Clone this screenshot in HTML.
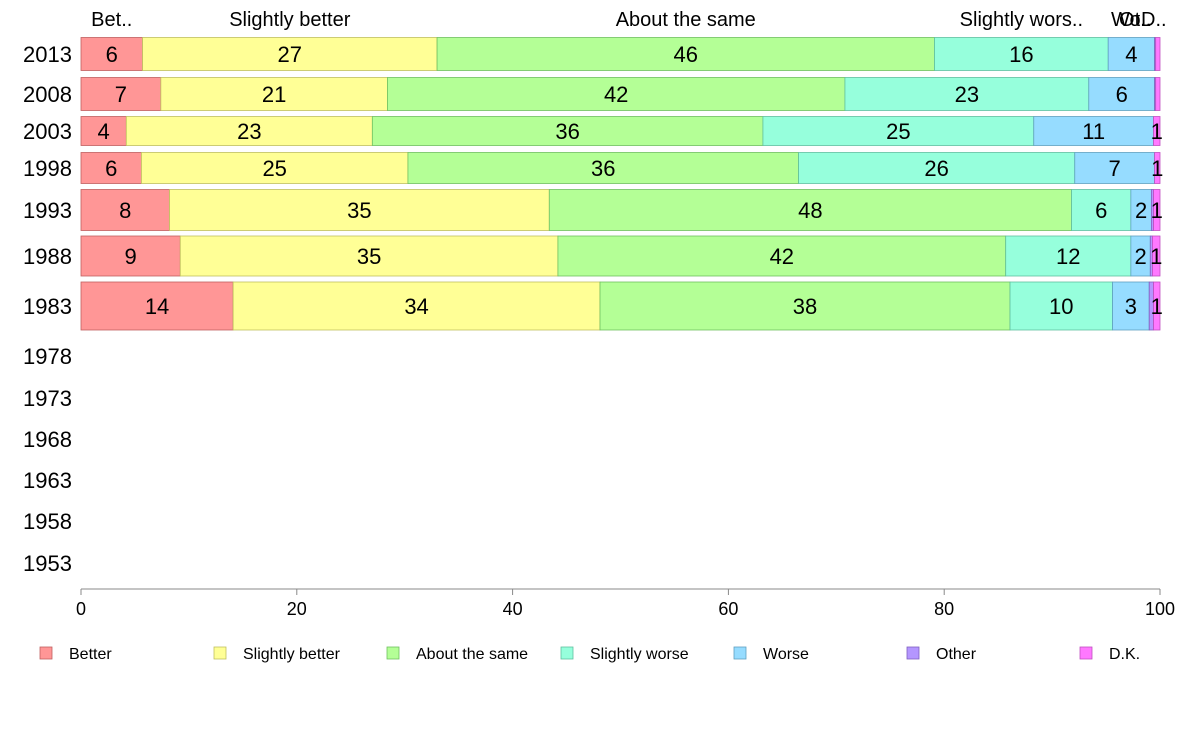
<!DOCTYPE html>
<html><head><meta charset="utf-8"><style>
body{margin:0;background:#fff;font-family:"Liberation Sans",sans-serif;}
svg text{font-family:"Liberation Sans",sans-serif;}
</style></head><body>
<svg id="chart" width="1188" height="736" xmlns="http://www.w3.org/2000/svg"></svg>
<script>
const years=["2013","2008","2003","1998","1993","1988","1983","1978","1973","1968","1963","1958","1953"];
const categories=["Better","Slightly better","About the same","Slightly worse","Worse","Other","D.K."];
const better=[5.7,7.4,4.2,5.6,8.2,9.2,14.1];
const slightlyBetter=[27.3,21.0,22.8,24.7,35.2,35.0,34.0];
const aboutSame=[46.1,42.4,36.2,36.2,48.4,41.5,38.0];
const slightlyWorse=[16.1,22.6,25.1,25.6,5.5,11.6,9.5];
const worse=[4.3,6.1,11.1,7.4,1.9,1.8,3.4];
const other=[0.1,0.1,0.0,0.0,0.2,0.2,0.4];
const dk=[0.4,0.4,0.6,0.5,0.6,0.7,0.6];
const xTicks=[0,20,40,60,80,100];
const series=[better,slightlyBetter,aboutSame,slightlyWorse,worse,other,dk];
const colors=["#ff9696","#ffff96","#b4ff96","#96ffdc","#96dcff","#b496ff","#ff78ff"];
const strokes=["#c06060","#c0c060","#70c060","#60c0a0","#60a0c0","#8060c0","#c050c0"];
const rowCenters=[54,94,131,168,210,256,306,356,398,439,480,521,563];
const rowHeights=[33,33,29,31,41,40,48];
const svg=document.getElementById('chart');
const NS="http://www.w3.org/2000/svg";
const x0=81,x1=1160;
const xs=v=>x0+(x1-x0)*v/100;
function mk(tag,attrs,txt){const e=document.createElementNS(NS,tag);for(const k in attrs)e.setAttribute(k,attrs[k]);if(txt!==undefined)e.textContent=txt;svg.appendChild(e);return e;}
years.forEach((y,i)=>{
 const t=mk('text',{x:72,y:rowCenters[i]+8,'text-anchor':'end','font-size':22,fill:'#000'},y);
 
 
});
for(let r=0;r<better.length;r++){
 let cum=0;const h=rowHeights[r],yc=rowCenters[r];
 series.forEach((s,c)=>{
  const v=s[r];const xa=xs(cum),xb=xs(cum+v);
  const rect=mk('rect',{x:xa,y:yc-h/2,width:Math.max(0,xb-xa),height:h,fill:colors[c],stroke:strokes[c],'stroke-width':0.8});
  
  
  const lab=Math.round(v);
  if(lab>=1){
   const t=mk('text',{x:(xa+xb)/2,y:yc+8,'text-anchor':'middle','font-size':22,fill:'#000'},String(lab));
   
   
  }
  cum+=v;
 });
}
// top category header labels aligned with first row
const headers=["Bet..","Slightly better","About the same","Slightly wors..","Wo..","Ot..","D.."];
let cum=0;
series.forEach((s,c)=>{
 const v=s[0];const cx=(xs(cum)+xs(cum+v))/2;cum+=v;
 let xx=cx;if(c===6)xx=cx-4;if(c===5)xx=cx-20;
 const t=mk('text',{x:xx,y:26,'text-anchor':'middle','font-size':20,fill:'#000'},headers[c]);
 
 
});
// x axis
const ax=mk('line',{x1:x0,y1:589,x2:x1,y2:589,stroke:'#888','stroke-width':1});


xTicks.forEach(v=>{
 const l=mk('line',{x1:xs(v),y1:589,x2:xs(v),y2:595,stroke:'#888'});
 
 
 const t=mk('text',{x:xs(v),y:615,'text-anchor':'middle','font-size':18,fill:'#000'},String(v));
 
 
});
// legend
const legX=[40,214,387,561,734,907,1080];
categories.forEach((c,i)=>{
 const r=mk('rect',{x:legX[i],y:647,width:12,height:12,fill:colors[i],stroke:strokes[i],'stroke-width':0.8});
 
 
 const t=mk('text',{x:legX[i]+29,y:659,'font-size':16,fill:'#000'},c);
 
 
});
</script>
</body></html>
